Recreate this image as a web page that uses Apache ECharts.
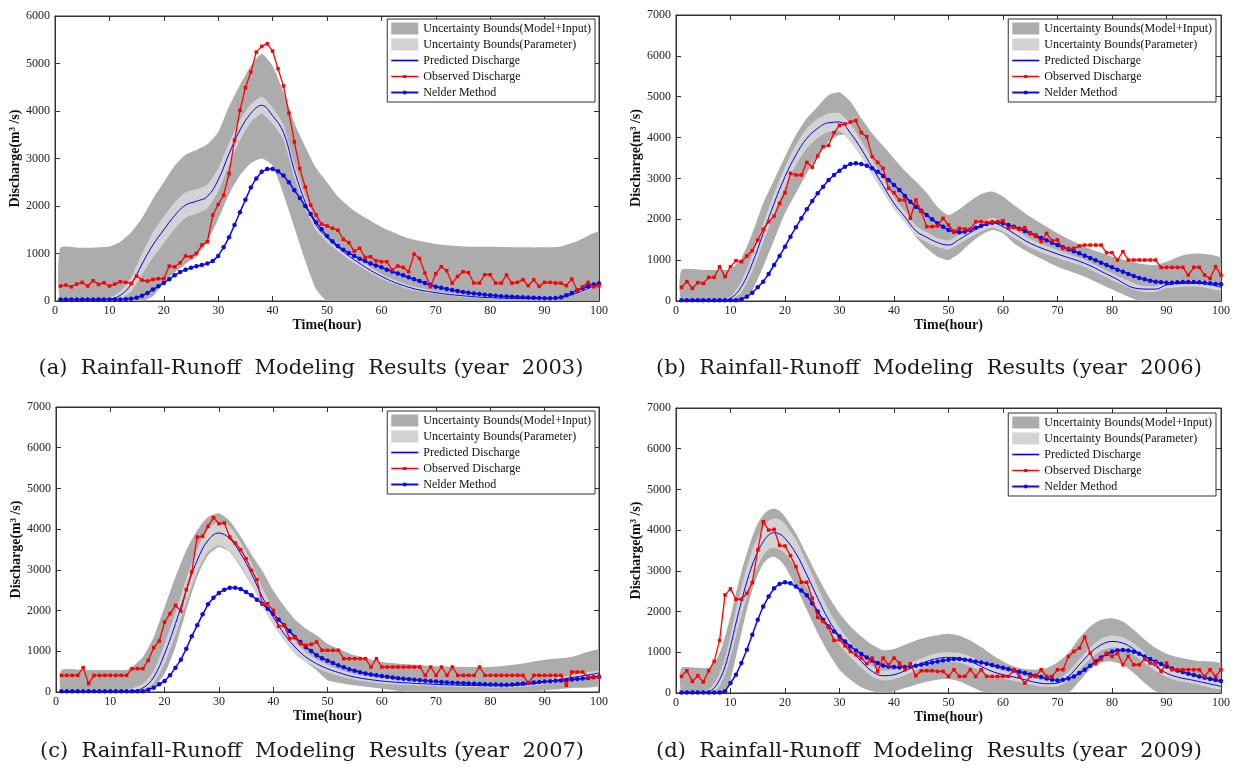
<!DOCTYPE html>
<html>
<head>
<meta charset="utf-8">
<title>Rainfall-Runoff Modeling Results</title>
<script src="https://cdn.jsdelivr.net/npm/echarts@6/dist/echarts.min.js"></script>
<style>
  html, body { margin: 0; padding: 0; background: #fff; }
  #chart { width: 1237px; height: 768px; }
</style>
</head>
<body>
<div id="chart"></div>
<script>
// ---- (a) year 2003 ----
const aTime = [1, 5, 10, 12, 14, 16, 18, 20, 22, 24, 26, 28, 30, 32, 34, 36, 38, 40, 42, 44, 46, 48, 50, 52, 55, 60, 65, 70, 75, 80, 85, 90, 93, 96, 100];
const aOuterHi = [1120, 1120, 1150, 1250, 1450, 1750, 2150, 2500, 2850, 3080, 3180, 3300, 3560, 4100, 4550, 4950, 5200, 4950, 4400, 3750, 3250, 2800, 2500, 2200, 1900, 1560, 1320, 1200, 1150, 1140, 1130, 1130, 1150, 1260, 1440];
const aOuterLo = [-200, -200, -200, -200, -200, -100, 100, 400, 600, 780, 950, 1250, 1720, 2250, 2650, 2900, 3000, 2850, 2250, 1550, 850, 250, -300, -400, -400, -400, -400, -400, -400, -400, -400, -400, -400, -400, -400];
const aInnerLo = [0, 0, 10, 40, 200, 560, 910, 1220, 1520, 1750, 1840, 1950, 2310, 2870, 3390, 3760, 3940, 3730, 3390, 2600, 1950, 1490, 1240, 1050, 800, 470, 250, 145, 85, 50, 35, 30, 45, 140, 330];
const aInnerHi = [10, 10, 70, 200, 500, 1000, 1450, 1780, 2080, 2290, 2360, 2450, 2790, 3330, 3810, 4140, 4300, 4070, 3710, 2900, 2210, 1710, 1420, 1210, 940, 570, 330, 205, 135, 95, 80, 75, 100, 200, 390];
const aPred = [0, 0, 40, 120, 350, 780, 1180, 1500, 1800, 2020, 2100, 2200, 2550, 3100, 3600, 3950, 4120, 3900, 3550, 2750, 2080, 1600, 1330, 1130, 870, 520, 290, 175, 110, 70, 55, 50, 70, 170, 360];
const aObs = [
  315, 336, 300, 357, 390, 315, 427, 350, 385, 315,
  357, 406, 392, 370, 525, 440, 420, 455, 470, 470,
  735, 720, 805, 946, 930, 1000, 1177, 1247, 1808, 2032,
  2228, 2684, 3384, 4015, 4490, 4820, 5240, 5360, 5417, 5262,
  4890, 4530, 3955, 3350, 2790, 2400, 2020, 1810, 1620, 1580,
  1530, 1490, 1300, 1230, 1050, 1110, 918, 932, 848, 827,
  827, 652, 736, 708, 617, 988, 897, 589, 300, 575,
  722, 638, 378, 518, 617, 596, 378, 378, 553, 553,
  378, 378, 546, 378, 392, 448, 322, 448, 308, 392,
  392, 378, 378, 322, 462, 230, 300, 392, 300, 322];
const aNelder = [
  30, 30, 30, 30, 30, 30, 30, 30, 30, 30,
  30, 30, 35, 45, 70, 110, 170, 240, 310, 380,
  460, 540, 610, 660, 700, 730, 760, 790, 840, 950,
  1130, 1340, 1600, 1870, 2130, 2390, 2580, 2720, 2780, 2780,
  2730, 2640, 2500, 2330, 2170, 2000, 1830, 1660, 1510, 1370,
  1260, 1160, 1080, 1010, 950, 890, 840, 790, 750, 710,
  660, 620, 580, 540, 500, 460, 420, 380, 340, 300,
  280, 255, 230, 210, 190, 175, 160, 145, 130, 120,
  110, 100, 95, 90, 85, 80, 75, 70, 65, 60,
  60, 65, 80, 120, 170, 220, 270, 310, 345, 370];

// ---- (b) year 2006 ----
const bTime = [1, 5, 8, 10, 12, 14, 16, 18, 20, 22, 24, 26, 28, 30, 32, 34, 36, 38, 40, 42, 44, 46, 48, 50, 52, 54, 56, 58, 60, 62, 65, 70, 75, 80, 85, 88, 90, 93, 96, 100];
const bOuterHi = [760, 760, 760, 770, 1044, 1656, 2390, 2960, 3530, 4063, 4470, 4757, 5040, 5110, 4880, 4470, 4100, 3800, 3490, 3190, 2930, 2650, 2300, 2100, 2250, 2450, 2620, 2680, 2560, 2350, 2060, 1660, 1330, 1090, 920, 880, 960, 1120, 1160, 1040];
const bOuterLo = [0, 0, 0, 0, 0, 270, 840, 1490, 2146, 2635, 3125, 3533, 3900, 4063, 4022, 3696, 3288, 2921, 2472, 1983, 1575, 1289, 1085, 1003, 1167, 1412, 1615, 1738, 1656, 1412, 1167, 840, 596, 285, -100, -150, -150, -120, -80, -30];
const bInnerLo = [0, 0, 0, 20, 220, 720, 1430, 2150, 2800, 3330, 3740, 3990, 4140, 4160, 3900, 3520, 3080, 2660, 2240, 1920, 1600, 1440, 1320, 1260, 1400, 1560, 1700, 1790, 1700, 1540, 1300, 1050, 830, 510, 230, 220, 310, 350, 350, 260];
const bInnerHi = [10, 10, 20, 110, 480, 1120, 1880, 2630, 3280, 3820, 4220, 4460, 4590, 4600, 4330, 3920, 3460, 3000, 2540, 2200, 1850, 1680, 1540, 1480, 1620, 1790, 1940, 2040, 1940, 1770, 1520, 1250, 1010, 680, 390, 360, 470, 510, 510, 410];
const bPred = [0, 0, 0, 65, 350, 922, 1656, 2390, 3043, 3574, 3982, 4226, 4365, 4380, 4110, 3720, 3270, 2830, 2390, 2060, 1720, 1560, 1430, 1370, 1509, 1673, 1820, 1917, 1820, 1656, 1412, 1150, 922, 596, 300, 290, 392, 430, 432, 335];
const bObs = [
  335, 473, 310, 449, 432, 579, 579, 840, 596, 840,
  987, 963, 1101, 1232, 1493, 1754, 1942, 2080, 2390, 2652,
  3125, 3084, 3084, 3394, 3272, 3549, 3778, 3810, 4120, 4300,
  4332, 4381, 4414, 4120, 4022, 3533, 3394, 3247, 2758, 2652,
  2472, 2472, 2023, 2472, 2187, 1820, 1820, 1836, 2023, 1860,
  1697, 1779, 1762, 1754, 1942, 1942, 1925, 1942, 1942, 1966,
  1779, 1803, 1754, 1795, 1656, 1615, 1452, 1656, 1477, 1493,
  1289, 1289, 1289, 1346, 1370, 1370, 1370, 1370, 1183, 1183,
  1003, 1208, 1003, 1003, 1003, 1003, 1003, 1003, 824, 824,
  824, 824, 824, 636, 824, 824, 636, 555, 840, 636];
const bNelder = [
  20, 20, 20, 20, 20, 20, 20, 20, 20, 20,
  20, 40, 106, 204, 335, 473, 661, 881, 1101, 1330,
  1575, 1803, 2023, 2244, 2448, 2635, 2799, 2962, 3084, 3190,
  3288, 3353, 3370, 3353, 3313, 3247, 3166, 3060, 2962, 2839,
  2717, 2570, 2431, 2309, 2211, 2105, 1999, 1900, 1820, 1738,
  1697, 1680, 1697, 1738, 1795, 1844, 1885, 1917, 1925, 1900,
  1860, 1820, 1770, 1713, 1656, 1599, 1542, 1485, 1428, 1370,
  1313, 1265, 1216, 1167, 1110, 1052, 995, 938, 881, 824,
  767, 718, 661, 612, 563, 530, 498, 473, 457, 449,
  449, 457, 465, 465, 465, 457, 449, 432, 416, 408];

// ---- (c) year 2007 ----
const cTime = [1, 5, 10, 13, 14, 16, 18, 20, 22, 24, 26, 28, 30, 32, 34, 36, 38, 40, 42, 44, 46, 48, 50, 52, 55, 60, 65, 70, 75, 80, 85, 90, 95, 100];
const cOuterHi = [540, 540, 540, 545, 614, 860, 1350, 2088, 2825, 3480, 3970, 4298, 4390, 4200, 3820, 3380, 2980, 2497, 2110, 1780, 1560, 1392, 1187, 1064, 900, 737, 680, 630, 614, 614, 680, 794, 860, 1023];
const cOuterLo = [0, 0, 0, 0, 0, 0, 123, 450, 1105, 2006, 2825, 3357, 3561, 3439, 3070, 2620, 2170, 1719, 1310, 941, 737, 532, 287, 230, 164, 82, 0, -30, -30, -30, -20, 41, 98, 164];
const cInnerLo = [0, 0, 0, 0, 0, 30, 220, 700, 1400, 2200, 2950, 3440, 3600, 3460, 3110, 2640, 2100, 1640, 1260, 960, 740, 590, 480, 400, 300, 210, 170, 140, 120, 110, 120, 190, 290, 400];
const cInnerHi = [60, 60, 60, 70, 90, 200, 520, 1180, 1950, 2790, 3520, 4010, 4180, 4060, 3680, 3170, 2560, 2040, 1600, 1250, 980, 800, 670, 560, 440, 330, 280, 240, 210, 200, 210, 300, 410, 530];
const cPred = [0, 0, 0, 10, 20, 98, 368, 941, 1678, 2497, 3234, 3725, 3905, 3766, 3398, 2906, 2333, 1842, 1433, 1105, 860, 696, 573, 480, 368, 270, 221, 188, 164, 155, 164, 246, 352, 467];
const cObs = [
  409, 409, 409, 409, 598, 205, 409, 409, 409, 409,
  409, 409, 409, 573, 573, 573, 778, 1089, 1253, 1719,
  1924, 2129, 1989, 2513, 2947, 3807, 3823, 4069, 4282, 4134,
  4151, 3807, 3660, 3496, 3275, 2988, 2759, 2153, 2170, 2006,
  1613, 1637, 1310, 1334, 1187, 1146, 1171, 1228, 1023, 1023,
  1023, 1023, 819, 819, 819, 819, 819, 614, 819, 614,
  614, 614, 614, 614, 614, 614, 614, 409, 614, 409,
  614, 409, 614, 409, 409, 409, 409, 614, 409, 409,
  409, 409, 409, 409, 409, 409, 221, 409, 409, 409,
  409, 409, 409, 164, 491, 491, 491, 368, 368, 368];
const cNelder = [
  20, 20, 20, 20, 20, 20, 20, 20, 20, 20,
  20, 20, 20, 20, 20, 20, 57, 106, 188, 270,
  409, 598, 794, 1064, 1367, 1637, 1908, 2153, 2317, 2432,
  2513, 2562, 2562, 2530, 2456, 2374, 2268, 2170, 2047, 1924,
  1777, 1637, 1498, 1351, 1228, 1105, 1007, 900, 830, 770,
  710, 655, 605, 560, 520, 485, 455, 430, 410, 390,
  372, 355, 340, 326, 313, 300, 288, 276, 265, 255,
  245, 236, 228, 220, 213, 206, 200, 195, 190, 185,
  182, 180, 180, 185, 195, 208, 220, 232, 243, 255,
  265, 275, 285, 295, 305, 318, 330, 345, 360, 380];

// ---- (d) year 2009 ----
const dTime = [1, 4, 6, 7, 8, 9, 10, 11, 12, 13, 14, 15, 16, 17, 18, 19, 20, 22, 24, 26, 28, 30, 32, 34, 36, 38, 40, 42, 44, 46, 48, 50, 52, 54, 56, 58, 60, 62, 64, 66, 68, 70, 72, 74, 76, 78, 80, 82, 84, 86, 88, 90, 92, 95, 100];
const dOuterHi = [620, 620, 620, 735, 980, 1389, 1879, 2450, 2981, 3431, 3839, 4166, 4370, 4492, 4533, 4476, 4329, 3921, 3390, 2859, 2369, 1960, 1634, 1389, 1184, 1050, 1078, 1184, 1291, 1372, 1420, 1454, 1405, 1291, 1127, 939, 776, 653, 588, 572, 613, 751, 980, 1348, 1634, 1797, 1838, 1756, 1552, 1307, 1103, 964, 882, 800, 719];
const dOuterLo = [0, 0, 0, 0, 0, 41, 327, 898, 1470, 2042, 2532, 2900, 3169, 3308, 3349, 3267, 3104, 2614, 2042, 1470, 980, 572, 327, 139, 41, 0, 41, 123, 204, 278, 327, 343, 286, 163, 41, -40, -150, -150, -150, -150, -150, -100, 0, 286, 588, 751, 776, 694, 490, 245, 41, -100, -150, -150, -150];
const dInnerLo = [0, 0, 0, 40, 180, 450, 880, 1400, 1900, 2370, 2780, 3120, 3380, 3530, 3570, 3530, 3430, 3090, 2590, 2050, 1560, 1180, 880, 620, 400, 310, 340, 440, 560, 660, 730, 760, 740, 660, 540, 420, 350, 300, 240, 180, 150, 160, 300, 560, 840, 1040, 1120, 1080, 940, 730, 540, 390, 300, 230, 90];
const dInnerHi = [30, 30, 90, 220, 480, 860, 1410, 2030, 2590, 3100, 3510, 3830, 4060, 4230, 4290, 4260, 4150, 3760, 3200, 2600, 2040, 1600, 1250, 940, 670, 550, 570, 660, 790, 900, 980, 1000, 980, 900, 770, 640, 550, 490, 420, 350, 310, 330, 520, 830, 1120, 1330, 1410, 1370, 1220, 990, 770, 600, 490, 400, 240];
const dPred = [0, 0, 41, 123, 327, 653, 1144, 1715, 2246, 2736, 3145, 3471, 3716, 3880, 3937, 3905, 3798, 3431, 2900, 2328, 1797, 1389, 1062, 776, 531, 425, 449, 547, 670, 776, 849, 874, 858, 776, 653, 531, 449, 392, 327, 261, 229, 245, 408, 694, 980, 1184, 1266, 1225, 1078, 858, 653, 490, 392, 310, 163];
const dObs = [
  408, 547, 286, 425, 270, 547, 776, 1291, 2410, 2557,
  2303, 2303, 2450, 2712, 3512, 4207, 4002, 4019, 3627, 3610,
  3373, 3104, 2720, 2720, 2328, 1862, 1756, 1617, 1291, 1307,
  1160, 1021, 939, 858, 719, 858, 531, 858, 694, 858,
  735, 572, 719, 425, 547, 547, 547, 531, 531, 408,
  572, 408, 408, 572, 408, 572, 408, 408, 408, 408,
  408, 572, 408, 245, 408, 408, 572, 408, 408, 572,
  572, 898, 1021, 1103, 1372, 980, 719, 833, 980, 898,
  980, 694, 898, 694, 694, 833, 735, 735, 531, 735,
  572, 572, 572, 572, 572, 572, 408, 572, 408, 572];
const dNelder = [
  15, 15, 15, 15, 15, 15, 15, 15, 41, 245,
  449, 735, 1062, 1429, 1797, 2124, 2369, 2573, 2679, 2720,
  2695, 2614, 2516, 2401, 2205, 2001, 1797, 1634, 1511, 1389,
  1266, 1144, 1046, 956, 874, 800, 735, 678, 653, 637,
  629, 637, 653, 670, 694, 719, 751, 776, 800, 817,
  833, 833, 817, 800, 776, 751, 719, 686, 653, 621,
  588, 555, 523, 490, 457, 425, 392, 359, 327, 310,
  327, 359, 408, 490, 572, 670, 776, 874, 956, 1013,
  1046, 1054, 1046, 1013, 964, 898, 833, 768, 711, 653,
  604, 555, 515, 474, 441, 408, 376, 343, 319, 294];

// hourly time axis for observed / Nelder series
const hours = [];
for (let h = 1; h <= 100; h++) hours.push(h);

const NAME_OUTER = 'Uncertainty Bounds(Model+Input)';
const NAME_INNER = 'Uncertainty Bounds(Parameter)';
const NAME_PRED = 'Predicted Discharge';
const NAME_OBS = 'Observed Discharge';
const NAME_NELDER = 'Nelder Method';

const outerColor = '#acacac';
const innerColor = '#d3d3d3';
const serif = 'Liberation Serif';

// legend icons: thin line, line + square marker, line + round marker
const ICON_LINE = 'path://M0,46 H100 V52 H0 Z';
const ICON_LINE_SQ = 'path://M0,46 H100 V52 H0 Z M44,43 H56 V55 H44 Z';
const ICON_LINE_DOT = 'path://M0,46 H100 V53 H0 Z M50,42 A7.5,7.5 0 1,1 50,57 A7.5,7.5 0 1,1 50,42 Z';

const panels = [
  { grid: { left: 55, top: 16, width: 544, height: 285 }, yMax: 6000, legendRight: 642, legendTop: 19,
    caption: '(a)  Rainfall-Runoff  Modeling  Results (year  2003)', capX: 311, capY: 369,
    time: aTime, outerLo: aOuterLo, outerHi: aOuterHi, innerLo: aInnerLo, innerHi: aInnerHi, pred: aPred, obs: aObs, nelder: aNelder },
  { grid: { left: 676, top: 15, width: 545, height: 286 }, yMax: 7000, legendRight: 21, legendTop: 19,
    caption: '(b)  Rainfall-Runoff  Modeling  Results (year  2006)', capX: 929, capY: 369,
    time: bTime, outerLo: bOuterLo, outerHi: bOuterHi, innerLo: bInnerLo, innerHi: bInnerHi, pred: bPred, obs: bObs, nelder: bNelder },
  { grid: { left: 56, top: 407, width: 543, height: 285 }, yMax: 7000, legendRight: 642, legendTop: 411,
    caption: '(c)  Rainfall-Runoff  Modeling  Results (year  2007)', capX: 312, capY: 752,
    time: cTime, outerLo: cOuterLo, outerHi: cOuterHi, innerLo: cInnerLo, innerHi: cInnerHi, pred: cPred, obs: cObs, nelder: cNelder },
  { grid: { left: 676, top: 408, width: 545, height: 285 }, yMax: 7000, legendRight: 21, legendTop: 413,
    caption: '(d)  Rainfall-Runoff  Modeling  Results (year  2009)', capX: 929, capY: 752,
    time: dTime, outerLo: dOuterLo, outerHi: dOuterHi, innerLo: dInnerLo, innerHi: dInnerHi, pred: dPred, obs: dObs, nelder: dNelder }
];

// band drawn as one filled polygon: lower edge forward, upper edge back
function bandSeries(name, idx, time, lo, hi, color) {
  const data = time.map((t, i) => [t, lo[i], hi[i]]);
  return {
    type: 'custom', name: name, xAxisIndex: idx, yAxisIndex: idx,
    clip: true, silent: true, z: 1,
    itemStyle: { color: color },
    encode: { x: 0, y: [1, 2] },
    data: data,
    renderItem: function (params, api) {
      if (params.dataIndex !== 0) return null;
      const pts = [];
      for (let i = 0; i < data.length; i++) pts.push(api.coord([data[i][0], Math.max(data[i][1], 0)]));
      for (let i = data.length - 1; i >= 0; i--) pts.push(api.coord([data[i][0], Math.max(data[i][2], 0)]));
      return { type: 'polygon', shape: { points: pts, smooth: 0.2 }, style: { fill: color } };
    }
  };
}

function xAxisCfg(i, pos, main) {
  return {
    type: 'value', gridIndex: i, position: pos, min: 0, max: 100, interval: 10,
    axisLine: { show: true, onZero: false, lineStyle: { color: '#333', width: 1 } },
    axisTick: { show: true, inside: true, length: 5, lineStyle: { color: '#333' } },
    axisLabel: { show: main, margin: 4, fontFamily: serif, fontSize: 12, color: '#222', showMinLabel: true, showMaxLabel: true,
      formatter: function (v) { return String(v); } },
    splitLine: { show: false },
    name: main ? 'Time(hour)' : '', nameLocation: 'middle', nameGap: 17,
    nameTextStyle: { fontFamily: serif, fontSize: 14, fontWeight: 'bold', color: '#111' }
  };
}

function yAxisCfg(i, pos, main, yMax) {
  return {
    type: 'value', gridIndex: i, position: pos, min: 0, max: yMax, interval: 1000,
    axisLine: { show: true, onZero: false, lineStyle: { color: '#333', width: 1 } },
    axisTick: { show: true, inside: true, length: 5, lineStyle: { color: '#333' } },
    axisLabel: { show: main, margin: 5, fontFamily: serif, fontSize: 12, color: '#222', showMinLabel: true, showMaxLabel: true,
      formatter: function (v) { return String(v); } },
    splitLine: { show: false },
    name: main ? 'Discharge(m\u00b3 /s)' : '', nameLocation: 'middle', nameGap: 28,
    nameTextStyle: { fontFamily: serif, fontSize: 14, fontWeight: 'bold', color: '#111' }
  };
}

const grids = [], xAxes = [], yAxes = [], series = [], legends = [], graphics = [];

panels.forEach((p, i) => {
  grids.push(Object.assign({ show: true, borderColor: '#333', borderWidth: 1, backgroundColor: 'transparent' }, p.grid));
  xAxes.push(xAxisCfg(i, 'bottom', true));
  yAxes.push(yAxisCfg(i, 'left', true, p.yMax));

  series.push(bandSeries(NAME_OUTER, i, p.time, p.outerLo, p.outerHi, outerColor));
  series.push(bandSeries(NAME_INNER, i, p.time, p.innerLo, p.innerHi, innerColor));
  series.push({
    type: 'line', name: NAME_PRED, xAxisIndex: i, yAxisIndex: i, z: 3,
    data: p.time.map((t, k) => [t, p.pred[k]]),
    smooth: 0.4, showSymbol: false, symbol: 'none',
    lineStyle: { color: '#0000ff', width: 1 }, itemStyle: { color: '#0000ff' }
  });
  series.push({
    type: 'line', name: NAME_NELDER, xAxisIndex: i, yAxisIndex: i, z: 4,
    data: hours.map((h, k) => [h, p.nelder[k]]),
    symbol: 'circle', symbolSize: 4.5, showAllSymbol: true,
    lineStyle: { color: '#0a0ae6', width: 1.5 }, itemStyle: { color: '#0a0ae6' }
  });
  series.push({
    type: 'line', name: NAME_OBS, xAxisIndex: i, yAxisIndex: i, z: 5,
    data: hours.map((h, k) => [h, p.obs[k]]),
    symbol: 'rect', symbolSize: 3.5, showAllSymbol: true,
    lineStyle: { color: '#ff0000', width: 1.3 }, itemStyle: { color: '#ff0000' }
  });

  legends.push({
    orient: 'vertical', right: p.legendRight, top: p.legendTop,
    backgroundColor: '#fff', borderColor: '#333', borderWidth: 1, borderRadius: 0,
    padding: [3, 4, 3, 4], itemGap: 3, itemWidth: 27, itemHeight: 12,
    selectedMode: false,
    textStyle: { fontFamily: serif, fontSize: 12, color: '#111', lineHeight: 13 },
    data: [
      { name: NAME_OUTER, icon: 'rect' },
      { name: NAME_INNER, icon: 'rect' },
      { name: NAME_PRED, icon: ICON_LINE },
      { name: NAME_OBS, icon: ICON_LINE_SQ },
      { name: NAME_NELDER, icon: ICON_LINE_DOT }
    ]
  });

  graphics.push({
    type: 'text', x: p.capX, y: p.capY,
    style: { text: p.caption, fill: '#1a1a1a', font: '21px "DejaVu Serif"', textAlign: 'center', textVerticalAlign: 'middle' }
  });
});

// top and right frame axes with inward ticks
panels.forEach((p, i) => {
  xAxes.push(xAxisCfg(i, 'top', false));
  yAxes.push(yAxisCfg(i, 'right', false, p.yMax));
});

const chart = echarts.init(document.getElementById('chart'));
chart.setOption({
  animation: false,
  backgroundColor: '#fff',
  grid: grids,
  xAxis: xAxes,
  yAxis: yAxes,
  legend: legends,
  series: series,
  graphic: graphics
});

window.addEventListener('resize', function () {
  chart.resize();
});
</script>
</body>
</html>
